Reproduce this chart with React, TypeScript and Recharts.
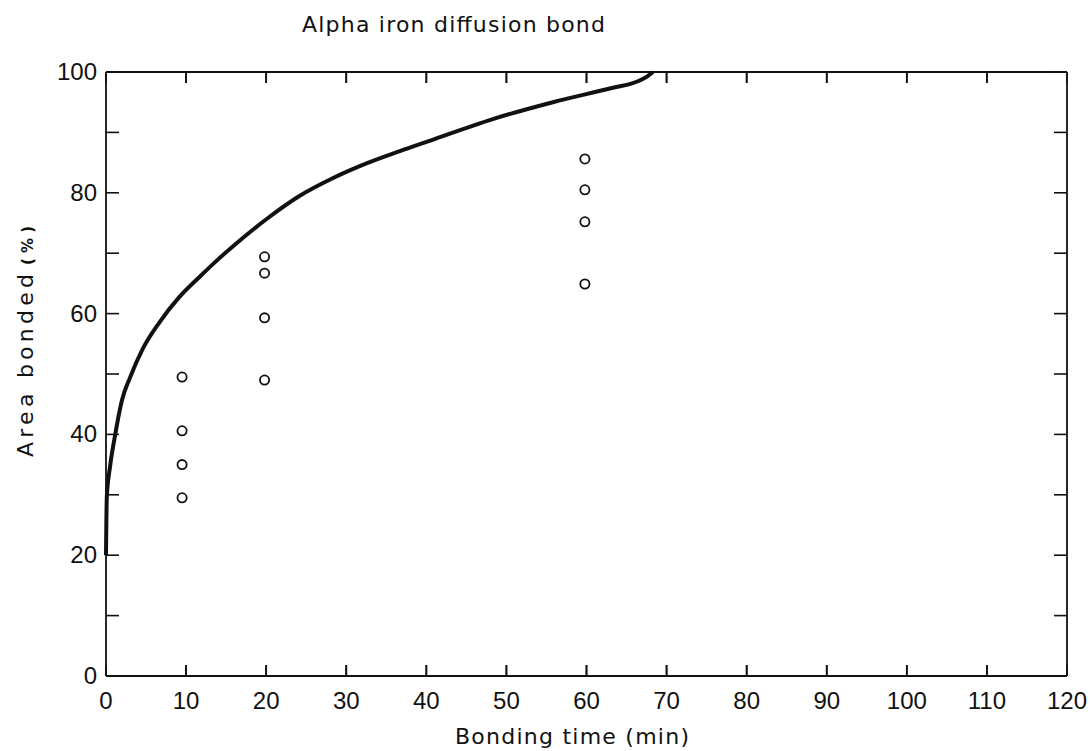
import React from 'react';
import { ComposedChart, Line, Scatter, XAxis, YAxis } from 'recharts';

const W = 1090;
const H = 751;
const PLOT_LEFT = 106;
const PLOT_RIGHT = 1067;
const PLOT_TOP = 72;
const PLOT_BOTTOM = 676;
const FONT = '"Liberation Sans", Arial, sans-serif';
const LABEL_FONT = '"DejaVu Sans", sans-serif';
const INK = '#111';

// bonding time (min) vs area bonded (%) - model curve
const curveTime = [0, 0.1, 0.5, 1.1, 2, 3, 4.6, 6.7, 9.2, 11.7, 14.1, 15.9, 20.1, 24.2, 28.3, 32.6, 36.7, 40.4, 48.3, 55.8, 63.3, 66.5, 67.5, 68.3];
const curveArea = [20, 29.6, 34.6, 39.6, 45.7, 49.4, 54.2, 58.6, 62.8, 66.1, 69.1, 71.2, 75.7, 79.5, 82.4, 84.9, 86.9, 88.6, 92.2, 95, 97.4, 98.5, 99.2, 100];

// measured points
const pointTime = [9.5, 9.5, 9.5, 9.5, 19.8, 19.8, 19.8, 19.8, 59.8, 59.8, 59.8, 59.8];
const pointArea = [49.5, 40.6, 35, 29.5, 69.4, 66.7, 59.3, 49, 85.6, 80.5, 75.2, 64.9];

const xTicks = [0, 10, 20, 30, 40, 50, 60, 70, 80, 90, 100, 110, 120];
const yTicks = [0, 10, 20, 30, 40, 50, 60, 70, 80, 90, 100];

const curve = curveTime.map((t, i) => ({ t, a: curveArea[i] }));
const points = pointTime.map((t, i) => ({ t, a: pointArea[i] }));

const xToPx = (t: number) => PLOT_LEFT + ((t - 0) / (120 - 0)) * (PLOT_RIGHT - PLOT_LEFT);

// labels placed below the axis line (tick y passed in is at the inner tick end)
const BottomTick = (props: any) => {
  const { x, payload } = props;
  return (
    <text x={x} y={PLOT_BOTTOM + 33} textAnchor="middle" fontFamily={FONT} fontSize={24} fill={INK}>
      {payload.value}
    </text>
  );
};

const LeftTick = (props: any) => {
  const { x, y, payload } = props;
  return (
    <g>
      <line x1={x} y1={y} x2={x + 13} y2={y} stroke={INK} strokeWidth={1.6} />
      {payload.value % 20 === 0 && (
        <text x={x - 9} y={y + 8} textAnchor="end" fontFamily={FONT} fontSize={24} fill={INK}>
          {payload.value}
        </text>
      )}
    </g>
  );
};

const RightTick = (props: any) => {
  const { x, y } = props;
  return <line x1={x} y1={y} x2={x - 13} y2={y} stroke={INK} strokeWidth={1.6} />;
};

const HollowDot = (props: any) => {
  const { cx, cy } = props;
  return <circle cx={cx} cy={cy} r={4.6} fill="#fff" stroke={INK} strokeWidth={1.8} />;
};

const NoDot = () => <g />;

export default function App() {
  return (
    <div style={{ position: 'absolute', left: 0, top: 0, width: W, height: H, background: '#fff' }}>
      <ComposedChart width={W} height={H} margin={{ top: PLOT_TOP - 1, right: W - PLOT_RIGHT - 1, bottom: 0, left: 0 }}>
        <XAxis
          xAxisId="bottom"
          dataKey="t"
          type="number"
          domain={[0, 120]}
          ticks={xTicks}
          height={H - PLOT_BOTTOM}
          tickSize={-11}
          tickMargin={0}
          tickLine={{ stroke: INK, strokeWidth: 1.6 }}
          axisLine={{ stroke: INK, strokeWidth: 1.8 }}
          tick={<BottomTick />}
          interval={0}
        />
        <XAxis
          xAxisId="top"
          dataKey="t"
          orientation="top"
          type="number"
          domain={[0, 120]}
          ticks={xTicks}
          height={1}
          tickSize={-11}
          tickMargin={0}
          tickLine={{ stroke: INK, strokeWidth: 1.6 }}
          axisLine={{ stroke: INK, strokeWidth: 1.8 }}
          tick={<NoDot />}
          interval={0}
        />
        <YAxis
          yAxisId="left"
          dataKey="a"
          type="number"
          domain={[0, 100]}
          ticks={yTicks}
          width={PLOT_LEFT}
          tickSize={0}
          tickMargin={0}
          tickLine={false}
          axisLine={{ stroke: INK, strokeWidth: 1.8 }}
          tick={<LeftTick />}
          interval={0}
        />
        <YAxis
          yAxisId="right"
          dataKey="a"
          orientation="right"
          type="number"
          domain={[0, 100]}
          ticks={yTicks}
          width={1}
          tickSize={0}
          tickMargin={0}
          tickLine={false}
          axisLine={{ stroke: INK, strokeWidth: 1.8 }}
          tick={<RightTick />}
          interval={0}
        />
        <Line
          xAxisId="bottom"
          yAxisId="left"
          data={curve}
          dataKey="a"
          type="monotone"
          stroke={INK}
          strokeWidth={4}
          dot={false}
          activeDot={false}
          isAnimationActive={false}
        />
        <Scatter
          xAxisId="bottom"
          yAxisId="left"
          data={points}
          dataKey="a"
          shape={<HollowDot />}
          isAnimationActive={false}
        />
        <Scatter
          xAxisId="top"
          yAxisId="right"
          data={points}
          dataKey="a"
          shape={<NoDot />}
          isAnimationActive={false}
        />
      </ComposedChart>
      <svg width={W} height={H} style={{ position: 'absolute', left: 0, top: 0, pointerEvents: 'none' }}>
        {/* inward x ticks on the bottom and top frame */}
        {xTicks.slice(1, -1).map((t) => (
          <g key={t}>
            <path d={`M${xToPx(t)},${PLOT_BOTTOM} v-11`} stroke={INK} strokeWidth={1.8} />
            <path d={`M${xToPx(t)},${PLOT_TOP} v11`} stroke={INK} strokeWidth={1.8} />
          </g>
        ))}
        <text x={302} y={32} textLength={303} lengthAdjust="spacing" fontFamily={LABEL_FONT} fontSize={22} fill={INK}>
          Alpha iron diffusion bond
        </text>
        <text x={455} y={744} textLength={234} lengthAdjust="spacing" fontFamily={LABEL_FONT} fontSize={22} fill={INK}>
          Bonding time (min)
        </text>
        <g transform="translate(33 0) rotate(-90)">
          <text x={-457} y={0} textLength={183} lengthAdjust="spacing" fontFamily={LABEL_FONT} fontSize={22} fill={INK}>
            Area bonded
          </text>
          <text x={-265} y={0} textLength={39} lengthAdjust="spacing" fontFamily={LABEL_FONT} fontWeight="bold" fontSize={15} fill={INK}>
            (%)
          </text>
        </g>
      </svg>
    </div>
  );
}
